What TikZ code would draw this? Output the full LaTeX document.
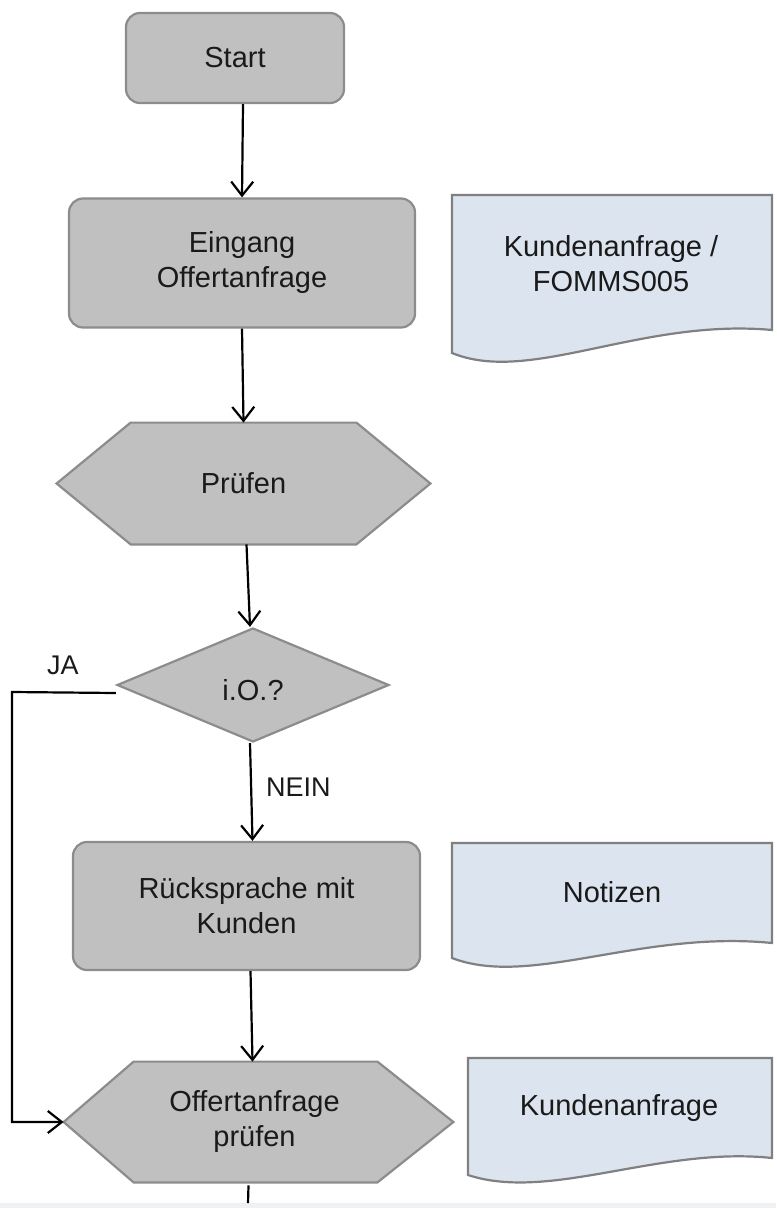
\documentclass[tikz,border=0pt]{standalone}
\usepackage{fontspec}
\setmainfont{Liberation Sans}
\usetikzlibrary{shapes.geometric,arrows.meta,calc}
\definecolor{boxfill}{HTML}{C0C0C0}
\definecolor{boxline}{HTML}{8C8C8C}
\definecolor{docfill}{HTML}{DCE4EF}
\definecolor{docline}{HTML}{808080}
\definecolor{txt}{HTML}{1A1A1A}
\definecolor{band}{HTML}{EFF1F3}
\tikzset{
  every node/.style={font=\fontsize{14.5}{17.5}\selectfont, text=txt, align=center, inner sep=0pt},
  procbox/.style={draw=boxline, fill=boxfill, line width=1.1pt, rounded corners=7pt, rectangle},
  hexbox/.style={rectangle},
  hexshape/.style={draw=boxline, fill=boxfill, line width=1.1pt},
  decision/.style={diamond, draw=boxline, fill=boxfill, line width=1.1pt},
  docshape/.style={draw=docline, fill=docfill, line width=1.1pt},
  flow/.style={draw=black, line width=1.1pt, -{Straight Barb[length=7pt,width=11pt,line width=1.1pt]}},
  plainline/.style={draw=black, line width=1.1pt},
  lbl/.style={font=\fontsize{13.5}{15}\selectfont}
}
\begin{document}
\begin{tikzpicture}[x=0.5pt,y=-0.5pt]
\useasboundingbox (0,0) rectangle (776,1208);
\fill[band] (0,1203) rectangle (776,1208);

% process boxes
\node[procbox, minimum width=109pt, minimum height=45pt] (start) at (235,58) {Start};
\node[procbox, minimum width=173pt, minimum height=64.5pt] (eingang) at (242,263) {Eingang\\Offertanfrage};

% Pruefen hexagon
\node[hexbox, minimum width=186.5pt, minimum height=60.5pt] (pruefen) at (243.5,483.5) {};
\path[hexshape] (pruefen.west) -- ([xshift=37pt]pruefen.north west) -- ([xshift=-37pt]pruefen.north east)
  -- (pruefen.east) -- ([xshift=-37pt]pruefen.south east) -- ([xshift=37pt]pruefen.south west) -- cycle;
\node at (pruefen) {Prüfen};

% decision
\node[decision, minimum width=136pt, minimum height=57pt] (io) at (253,685) {};
\node at ([yshift=-2.5pt]io.center) {i.O.?};

\node[procbox, minimum width=173.5pt, minimum height=64pt] (rueck) at (246.5,906) {Rücksprache mit\\Kunden};

% Offertanfrage pruefen hexagon
\node[hexbox, minimum width=194.5pt, minimum height=60pt] (oprf) at (258.5,1122) {};
\path[hexshape] (oprf.west) -- ([xshift=35pt]oprf.north west) -- ([xshift=-38pt]oprf.north east)
  -- (oprf.east) -- ([xshift=-38pt]oprf.south east) -- ([xshift=35pt]oprf.south west) -- cycle;
\node at ([xshift=-2pt]oprf.center) {Offertanfrage\\prüfen};

% documents
\path[docshape] (452,195) -- (772,195) -- (772,330) .. controls (640,318) and (530,385) .. (452,353) -- cycle;
\node (doc1) at (611,264) {Kundenanfrage /\\FOMMS005};
\path[docshape] (452,843) -- (772,843) -- (772,943) .. controls (640,930) and (530,988) .. (452,958) -- cycle;
\node (doc2) at (612,892) {Notizen};
\path[docshape] (468,1058) -- (772,1058) -- (772,1158) .. controls (660,1146) and (550,1202) .. (468,1175) -- cycle;
\node (doc3) at (619,1108) {Kundenanfrage};

% connectors
\draw[flow] ([xshift=4pt]start.south) -- (eingang.north);
\draw[flow] (eingang.south) -- (pruefen.north);
\draw[flow] ([xshift=1.5pt]pruefen.south) -- ([xshift=-1.5pt]io.north);
\draw[flow] ([xshift=-1.5pt]io.south) -- node[right=7pt, lbl, pos=0.45] (nein) {NEIN} ([xshift=3pt]rueck.north);
\draw[flow] ([xshift=2pt]rueck.south) -- ([xshift=-3pt]oprf.north);
\coordinate (jacorner) at (12,692);
\draw[flow] ([yshift=-4pt]io.west) -- (jacorner) |- (oprf.west);
\node[lbl] (ja) at (63,665) {JA};
\coordinate (stubend) at (248,1203);
\draw[plainline] ([xshift=-5pt, yshift=-1.5pt]oprf.south) -- (stubend);
\end{tikzpicture}
\end{document}
